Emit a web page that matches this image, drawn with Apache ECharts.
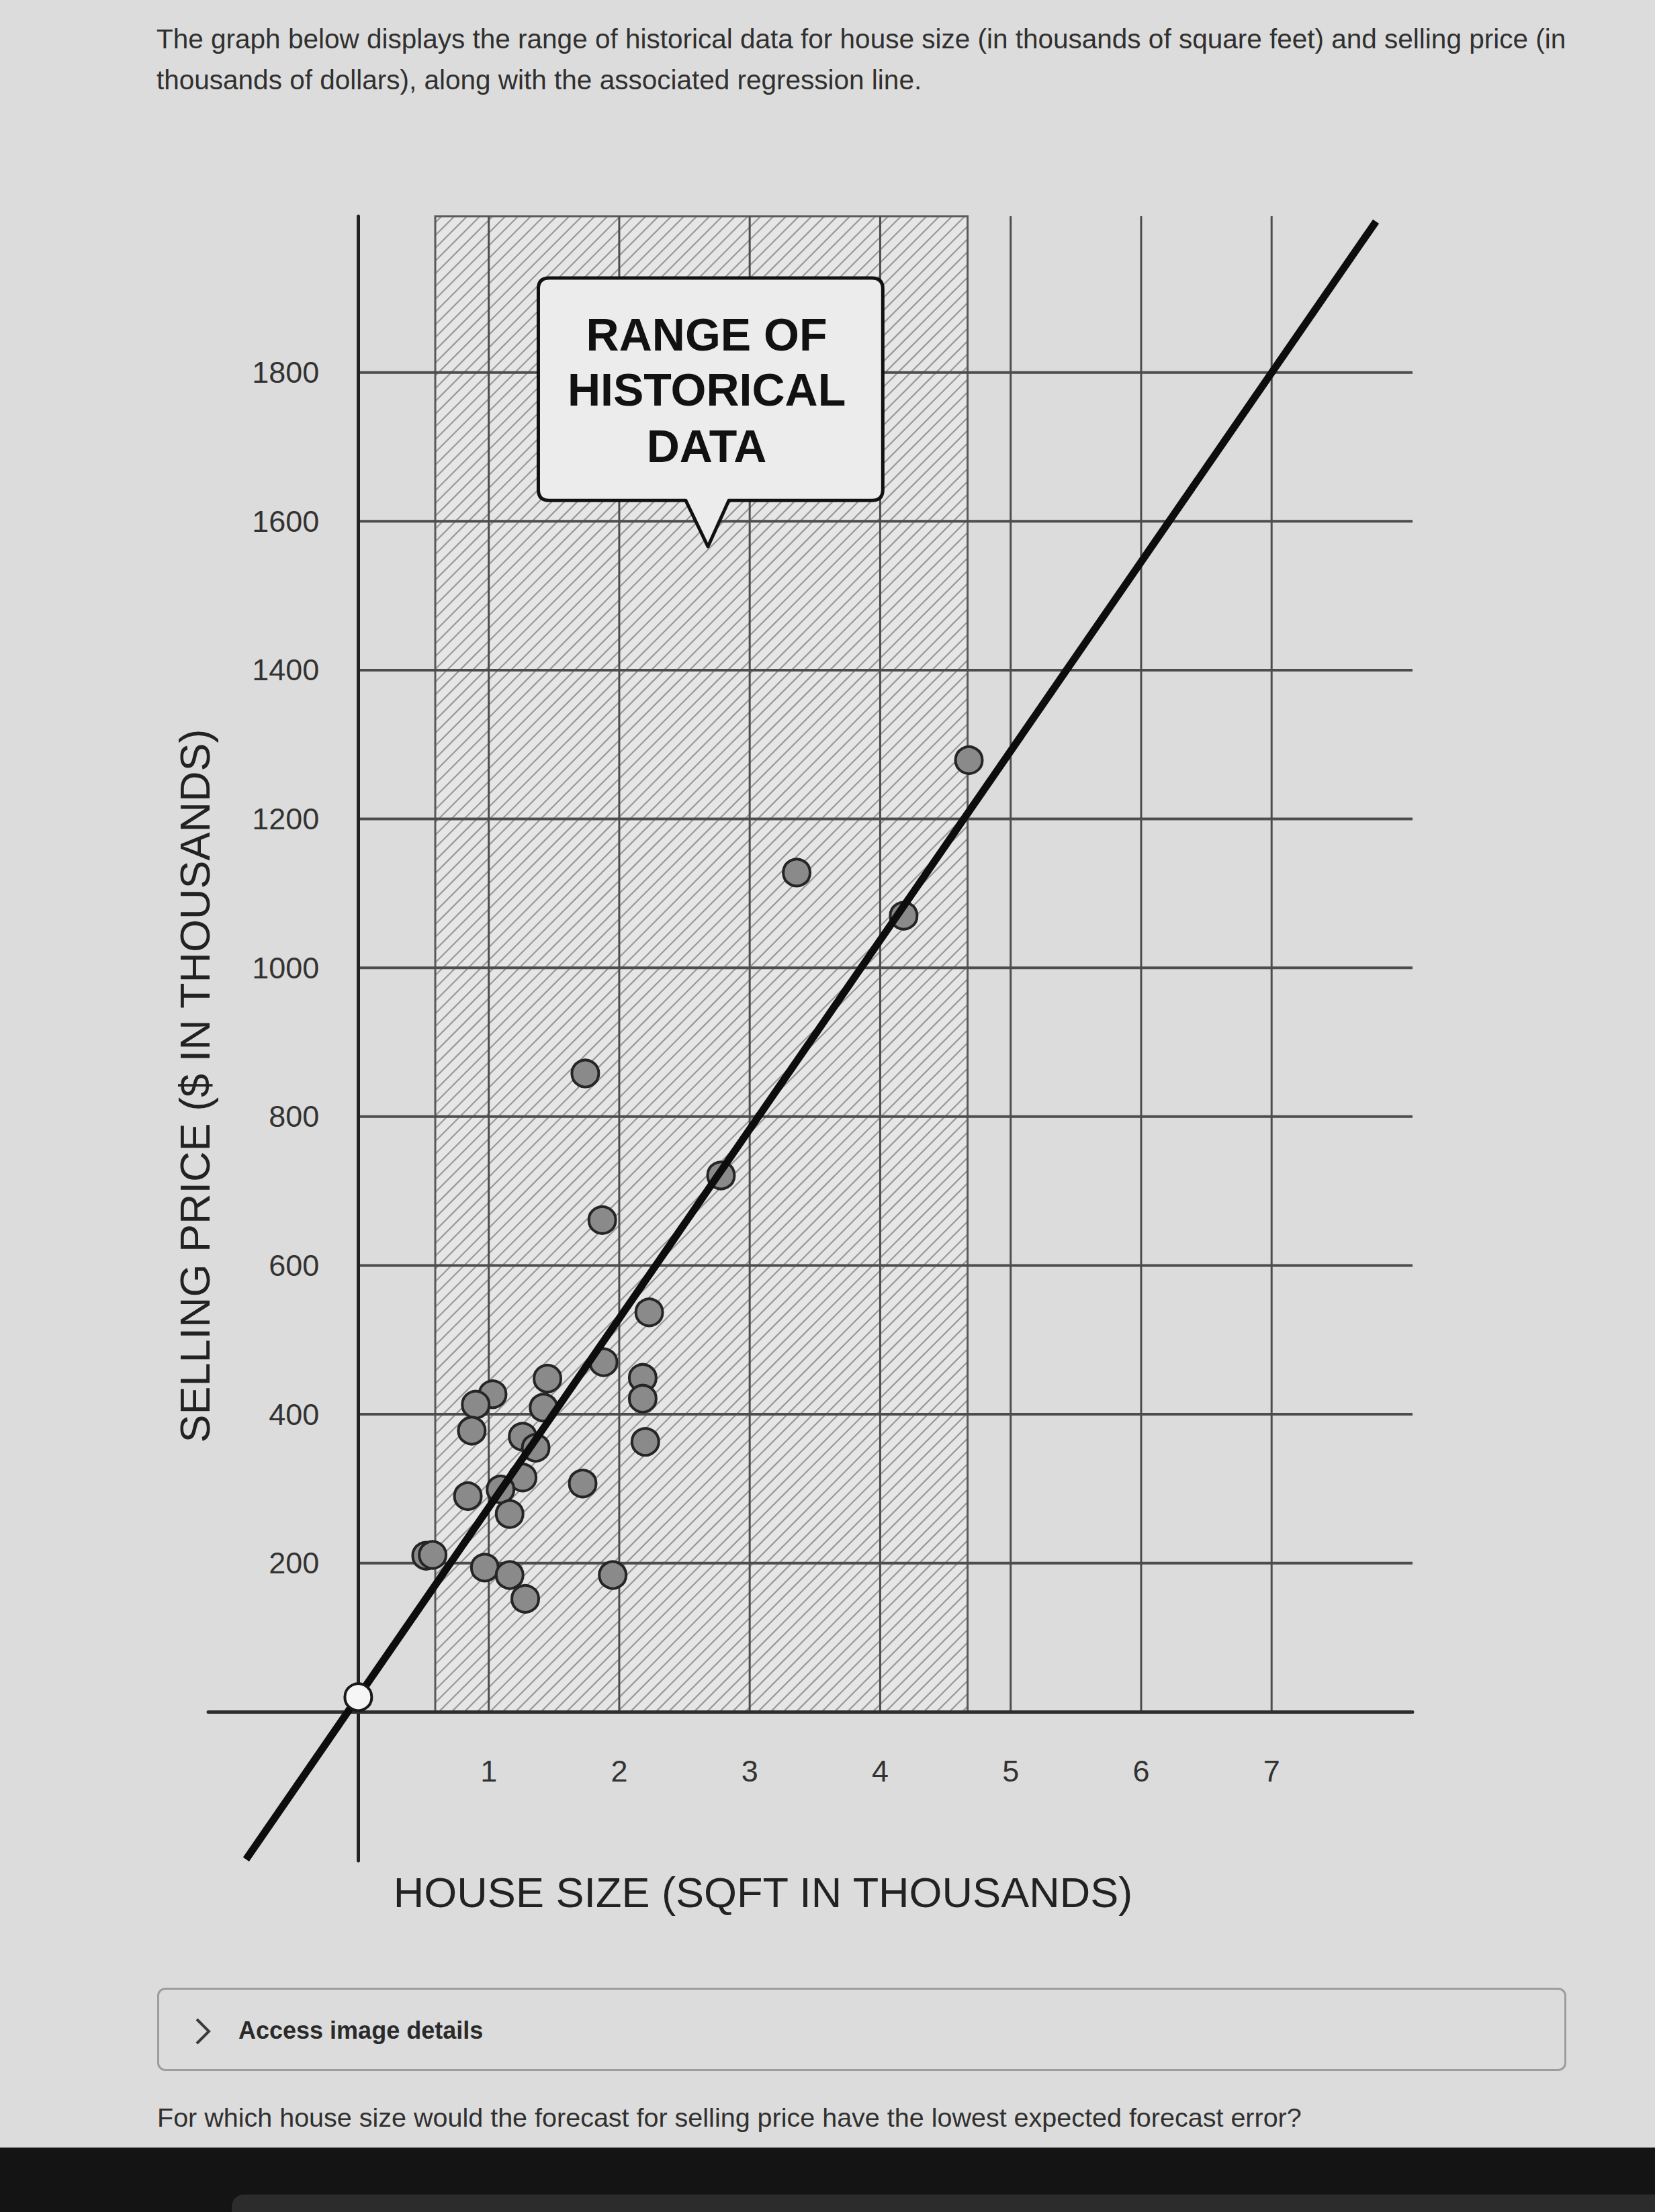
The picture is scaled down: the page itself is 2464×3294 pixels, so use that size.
<!DOCTYPE html>
<html>
<head>
<meta charset="utf-8">
<script src="https://cdn.jsdelivr.net/npm/echarts@6/dist/echarts.min.js"></script>
<style>
html, body { margin: 0; padding: 0; background: #dcdcdc; }
body { width: 2464px; height: 3294px; position: relative; overflow: hidden; font-family: "Liberation Sans", Arial, sans-serif; }
#chart { position: absolute; left: 0; top: 0; width: 2464px; height: 3294px; }
.txt { position: absolute; white-space: nowrap; color: #303030; z-index: 5; }
#p1 { left: 233px; top: 35px; font-size: 40.5px; }
#p2 { left: 233px; top: 96px; font-size: 40.5px; }
#access { position: absolute; left: 234px; top: 2960px; width: 2098px; height: 124px; border: 3px solid #9d9d9d; border-radius: 12px; box-sizing: border-box; z-index: 5; }
#access .lbl { position: absolute; left: 118px; top: 40px; font-size: 36px; font-weight: bold; color: #2a2a2a; white-space: nowrap; }
#access svg { position: absolute; left: 50px; top: 40px; }
#q { left: 234px; top: 3131px; font-size: 39.5px; }
#band { position: absolute; left: 0; top: 3198px; width: 2464px; height: 96px; background: #141414; z-index: 5; }
#band2 { position: absolute; left: 345px; top: 3268px; width: 2119px; height: 40px; background: #2c2c2c; border-top-left-radius: 18px; z-index: 6; }
</style>
</head>
<body>
<div id="chart"></div>
<div class="txt" id="p1">The graph below displays the range of historical data for house size (in thousands of square feet) and selling price (in</div>
<div class="txt" id="p2">thousands of dollars), along with the associated regression line.</div>
<div id="access">
  <svg width="30" height="44" viewBox="0 0 30 44"><polyline points="6,4 24,22 6,40" fill="none" stroke="#3a3a3a" stroke-width="4"/></svg>
  <div class="lbl">Access image details</div>
</div>
<div class="txt" id="q">For which house size would the forecast for selling price have the lowest expected forecast error?</div>
<div id="band"></div>
<div id="band2"></div>
<script>
// ---------- data ----------
const xTickValues = [1, 2, 3, 4, 5, 6, 7];
const yTickValues = [200, 400, 600, 800, 1000, 1200, 1400, 1600, 1800];
const houseSize    = [4.68, 3.36, 4.18, 2.78, 1.74, 1.87, 2.23, 1.88, 1.45, 1.03, 0.90, 2.18, 2.18, 1.42, 0.87, 1.26, 1.36, 2.20, 1.26, 1.72, 0.84, 1.09, 1.16, 0.52, 0.57, 0.97, 1.16, 1.28, 1.95];
const sellingPrice = [1279, 1128, 1070, 721, 858, 661, 537, 470, 448, 427, 413, 449, 421, 409, 378, 370, 355, 363, 315, 307, 290, 299, 266, 210, 211, 194, 184, 152, 184];
const historicalRange = [0.59, 4.67];
const regressionX = [-0.86, 7.8];
const regressionY = [-198, 2003];
const interceptPoint = [0, 20];
const calloutLines = ['RANGE OF', 'HISTORICAL', 'DATA'];

// ---------- layout ----------
const X_MIN = -1.15, X_MAX = 8.08, Y_MIN = -200, Y_MAX = 2010;
const GRID = { left: 310, right: 361, top: 322, bottom: 523 };
const PX_PER_X = (2464 - GRID.left - GRID.right) / (X_MAX - X_MIN);
const PX_PER_Y = (3294 - GRID.top - GRID.bottom) / (Y_MAX - Y_MIN);
const CALLOUT = { x0: 1.38, x1: 4.02, y0: 1628, y1: 1927, tipX: 2.68, tipY: 1566, baseL: 2.51, baseR: 2.84, textX: 2.67, lineY: [1851, 1777, 1701] };

const chart = echarts.init(document.getElementById('chart'), null, { renderer: 'svg' });

function renderGridLines(params, api) {
  const children = [];
  xTickValues.forEach(v => {
    const a = api.coord([v, 0]), b = api.coord([v, Y_MAX]);
    children.push({ type: 'line', shape: { x1: a[0], y1: a[1], x2: b[0], y2: b[1] }, style: { stroke: '#4d4d4d', lineWidth: 3 } });
  });
  yTickValues.forEach(v => {
    const a = api.coord([0, v]), b = api.coord([X_MAX, v]);
    children.push({ type: 'line', shape: { x1: a[0], y1: a[1], x2: b[0], y2: b[1] }, style: { stroke: '#4d4d4d', lineWidth: 4 } });
  });
  return { type: 'group', children };
}

function renderHatch(params, api) {
  const a = api.coord([historicalRange[0], 0]);
  const b = api.coord([historicalRange[1], Y_MAX]);
  const x0 = a[0], x1 = b[0], y0 = b[1], y1 = a[1];
  const children = [{ type: 'rect', shape: { x: x0, y: y0, width: x1 - x0, height: y1 - y0 }, style: { fill: '#e6e6e6' } }];
  const step = 19;
  for (let c = x0 + y0 + step / 2; c < x1 + y1; c += step) {
    const xs = Math.max(x0, c - y1), xe = Math.min(x1, c - y0);
    if (xe > xs) {
      children.push({ type: 'line', shape: { x1: xs, y1: c - xs, x2: xe, y2: c - xe }, style: { stroke: '#979797', lineWidth: 2.2 } });
    }
  }
  children.push({ type: 'rect', shape: { x: x0, y: y0, width: x1 - x0, height: y1 - y0 }, style: { fill: 'none', stroke: '#5a5a5a', lineWidth: 3 } });
  return { type: 'group', children };
}

function renderCallout(params, api) {
  const tl = api.coord([CALLOUT.x0, CALLOUT.y1]);
  const br = api.coord([CALLOUT.x1, CALLOUT.y0]);
  const tip = api.coord([CALLOUT.tipX, CALLOUT.tipY]);
  const bl = api.coord([CALLOUT.baseL, CALLOUT.y0]);
  const bR = api.coord([CALLOUT.baseR, CALLOUT.y0]);
  const L = tl[0], T = tl[1], R = br[0], B = br[1], r = 16;
  const d = `M${L + r},${T} L${R - r},${T} Q${R},${T} ${R},${T + r} L${R},${B - r} Q${R},${B} ${R - r},${B} ` +
            `L${bR[0]},${B} L${tip[0]},${tip[1]} L${bl[0]},${B} L${L + r},${B} Q${L},${B} ${L},${B - r} L${L},${T + r} Q${L},${T} ${L + r},${T} Z`;
  const children = [{ type: 'path', shape: { pathData: d }, style: { fill: '#ececec', stroke: '#111', lineWidth: 5, lineJoin: 'round' } }];
  calloutLines.forEach((t, i) => {
    const p = api.coord([CALLOUT.textX, CALLOUT.lineY[i]]);
    children.push({ type: 'text', x: p[0], y: p[1], style: { text: t, fill: '#111', font: 'bold 68px "Liberation Sans", Arial, sans-serif', textAlign: 'center', textVerticalAlign: 'middle', align: 'center', verticalAlign: 'middle' } });
  });
  return { type: 'group', children };
}

const labelFont = { fontSize: 45, color: '#333', fontFamily: '"Liberation Sans", Arial, sans-serif' };

const option = {
  backgroundColor: 'transparent',
  animation: false,
  grid: Object.assign({ containLabel: false }, GRID),
  xAxis: {
    type: 'value', min: X_MIN, max: X_MAX, z: 10,
    // axis placed on the y = 0 line
    offset: -(0 - Y_MIN) * PX_PER_Y,
    axisLine: { show: true, onZero: false, lineStyle: { color: '#2e2e2e', width: 5 } },
    axisTick: { show: false },
    splitLine: { show: false },
    axisLabel: Object.assign({ customValues: xTickValues, margin: 66, formatter: v => String(v) }, labelFont)
  },
  yAxis: {
    type: 'value', min: Y_MIN, max: Y_MAX, z: 10,
    // axis placed on the x = 0 line
    offset: -(0 - X_MIN) * PX_PER_X,
    axisLine: { show: true, onZero: false, lineStyle: { color: '#222', width: 5 } },
    axisTick: { show: false },
    splitLine: { show: false },
    axisLabel: Object.assign({ customValues: yTickValues, margin: 58, formatter: v => String(v) }, labelFont)
  },
  graphic: [
    { type: 'text', x: 1136, y: 2818, z: 20, style: { text: 'HOUSE SIZE (SQFT IN THOUSANDS)', font: '63px "Liberation Sans", Arial, sans-serif', fill: '#222', textAlign: 'center', textVerticalAlign: 'middle', align: 'center', verticalAlign: 'middle' } },
    { type: 'text', x: 290, y: 1617, rotation: Math.PI / 2, z: 20, style: { text: 'SELLING PRICE ($ IN THOUSANDS)', font: '63px "Liberation Sans", Arial, sans-serif', fill: '#222', textAlign: 'center', textVerticalAlign: 'middle', align: 'center', verticalAlign: 'middle' } }
  ],
  series: [
    { type: 'custom', name: 'hatch', z: 1, silent: true, renderItem: renderHatch, data: [[0, 0]] },
    { type: 'custom', name: 'grid', z: 2, silent: true, renderItem: renderGridLines, data: [[0, 0]] },
    { type: 'custom', name: 'callout', z: 4, silent: true, renderItem: renderCallout, data: [[0, 0]] },
    {
      type: 'scatter', name: 'historical', z: 5,
      data: houseSize.map((x, i) => [x, sellingPrice[i]]),
      symbol: 'circle', symbolSize: 40,
      itemStyle: { color: '#8a8a8a', borderColor: '#252525', borderWidth: 4, opacity: 1 }
    },
    {
      type: 'line', name: 'regression', z: 12, clip: false,
      data: regressionX.map((x, i) => [x, regressionY[i]]),
      showSymbol: false, symbol: 'none',
      lineStyle: { color: '#0d0d0d', width: 11, cap: 'butt' }
    },
    {
      type: 'scatter', name: 'intercept', z: 14,
      data: [interceptPoint],
      symbol: 'circle', symbolSize: 40,
      itemStyle: { color: '#f6f6f6', borderColor: '#1a1a1a', borderWidth: 4, opacity: 1 }
    }
  ]
};
chart.setOption(option);
</script>
</body>
</html>
